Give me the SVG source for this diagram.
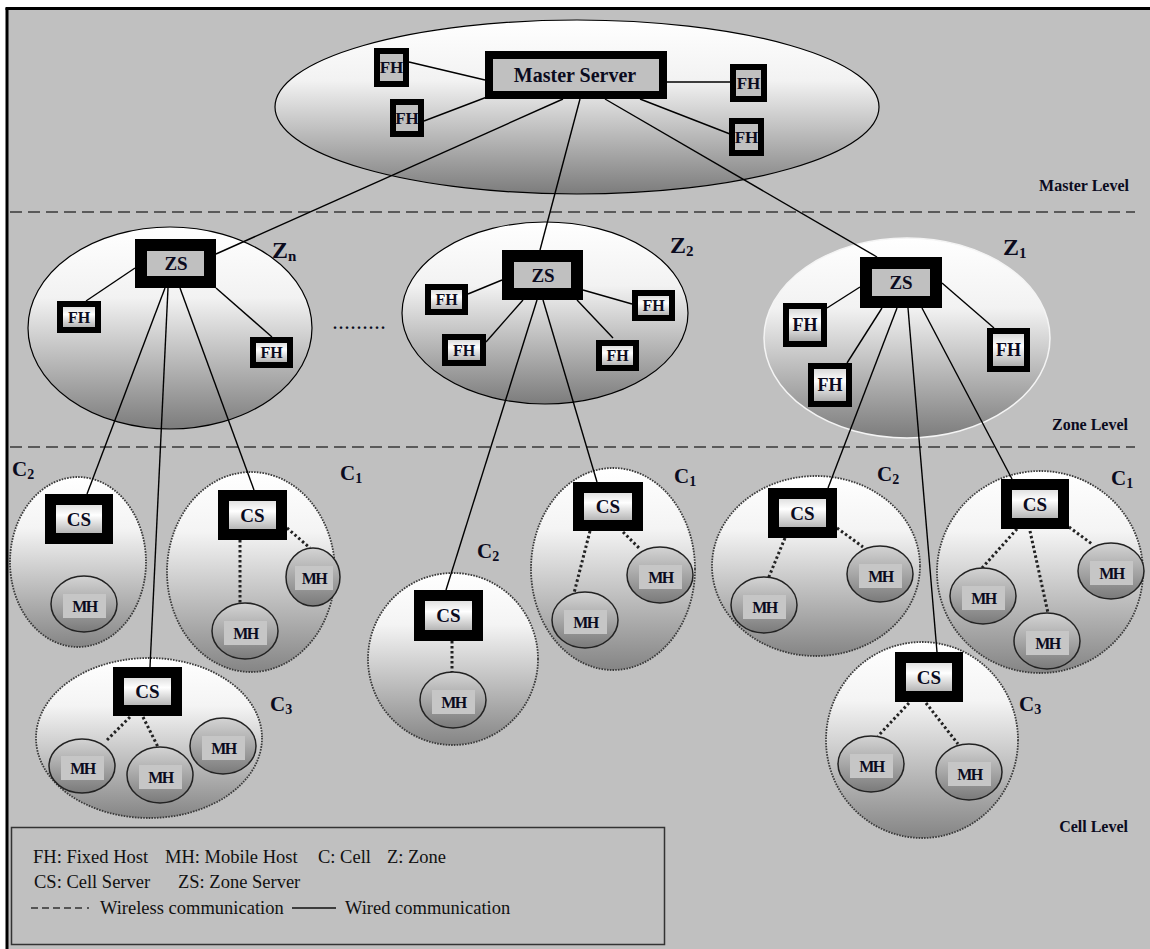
<svg xmlns="http://www.w3.org/2000/svg" width="1150" height="949" viewBox="0 0 1150 949" font-family="'Liberation Serif', 'Times New Roman', Times, serif">
<defs>
<linearGradient id="gBig" x1="0" y1="0" x2="0" y2="1">
<stop offset="0" stop-color="#ffffff"/><stop offset="0.35" stop-color="#f2f2f2"/><stop offset="1" stop-color="#7c7c7c"/>
</linearGradient>
<linearGradient id="gCell" x1="0" y1="0" x2="0" y2="1">
<stop offset="0" stop-color="#ffffff"/><stop offset="0.3" stop-color="#f4f4f4"/><stop offset="1" stop-color="#858585"/>
</linearGradient>
<linearGradient id="gMH" x1="0" y1="0" x2="0" y2="1">
<stop offset="0" stop-color="#d4d4d4"/><stop offset="1" stop-color="#7a7a7a"/>
</linearGradient>
<linearGradient id="gBtn" x1="0" y1="0" x2="0" y2="1">
<stop offset="0" stop-color="#d0d0d0"/><stop offset="0.4" stop-color="#ffffff"/><stop offset="1" stop-color="#a0a0a0"/>
</linearGradient>
</defs>
<style>
.bg{fill:#c0c0c0}
.frame{stroke:#000;stroke-width:3}
.lvl{stroke:#5a5a5a;stroke-width:2;stroke-dasharray:12 6;fill:none}
.zone{fill:url(#gBig);stroke:#000;stroke-width:1.2}
.zonew{fill:url(#gBig);stroke:#f4f4f4;stroke-width:1.5}
.cell{fill:url(#gCell);stroke:#3a3a3a;stroke-width:1.8;stroke-dasharray:1.6 1.2}
.line{stroke:#000;stroke-width:1.4;fill:none}
.wl{stroke:#222;stroke-width:3;stroke-dasharray:2.5 2.5;fill:none}
.ms{fill:#c0c0c0;stroke:#000;stroke-width:8}
.fh{fill:#c0c0c0;stroke:#000;stroke-width:6}
.fhz{fill:url(#gBtn);stroke:#000;stroke-width:6}
.zs{fill:#c0c0c0;stroke:#000;stroke-width:12}
.cs{fill:url(#gBtn);stroke:#000;stroke-width:11}
.mh{fill:url(#gMH);stroke:#222;stroke-width:1.5}
.mhl{fill:#c6c6c6}
text{font-family:'Liberation Serif','Times New Roman',Times,serif}
.t{font-weight:bold;text-anchor:middle;fill:#0b0b1e}
.lab{font-weight:bold;fill:#0b0b1e}
.leg{font-size:18.5px;fill:#111}
</style>
<rect width="1150" height="949" fill="#fff"/>
<rect class="bg" x="7" y="9" width="1143" height="940"/>
<line class="frame" x1="5.5" y1="8.5" x2="1150" y2="8.5"/>
<line class="frame" x1="7" y1="8" x2="7" y2="949"/>
<line class="lvl" x1="10" y1="212" x2="1135" y2="212"/>
<line class="lvl" x1="10" y1="447" x2="1135" y2="447"/>
<text class="lab" x="1129" y="191" font-size="16" text-anchor="end">Master Level</text>
<text class="lab" x="1128" y="430" font-size="16" text-anchor="end">Zone Level</text>
<text class="lab" x="1128" y="832" font-size="16" text-anchor="end">Cell Level</text>

<!-- containers -->
<g id="master-area"><ellipse class="zone" cx="577" cy="107" rx="302" ry="87"/></g>
<g id="zone-zn"><ellipse class="zone" cx="170" cy="328" rx="142" ry="101"/>
<text class="lab" x="272" y="258" font-size="24">Z<tspan font-size="15" dy="3">n</tspan></text></g>
<g id="zone-z2"><ellipse class="zone" cx="545" cy="313" rx="143" ry="91"/>
<text class="lab" x="670" y="253" font-size="24">Z<tspan font-size="15" dy="3">2</tspan></text></g>
<g id="zone-z1"><ellipse class="zonew" cx="907" cy="338" rx="143" ry="100"/>
<text class="lab" x="1003" y="255" font-size="24">Z<tspan font-size="15" dy="3">1</tspan></text></g>
<text class="lab" x="333" y="329" font-size="16" letter-spacing="2">.........</text>

<g id="cell-c2-zn"><ellipse class="cell" cx="78" cy="562" rx="68" ry="85"/>
<text class="lab" x="12" y="476" font-size="21">C<tspan font-size="14" dy="3">2</tspan></text></g>
<g id="cell-c1-zn"><ellipse class="cell" cx="251" cy="572" rx="84" ry="100"/>
<text class="lab" x="340" y="480" font-size="21">C<tspan font-size="14" dy="3">1</tspan></text></g>
<g id="cell-c3-zn"><ellipse class="cell" cx="149" cy="738" rx="113" ry="80"/>
<text class="lab" x="270" y="711" font-size="21">C<tspan font-size="14" dy="3">3</tspan></text></g>
<g id="cell-c2-z2"><ellipse class="cell" cx="453" cy="659" rx="85" ry="86"/>
<text class="lab" x="477" y="558" font-size="21">C<tspan font-size="14" dy="3">2</tspan></text></g>
<g id="cell-c1-z2"><ellipse class="cell" cx="613" cy="569" rx="82" ry="101"/>
<text class="lab" x="674" y="483" font-size="21">C<tspan font-size="14" dy="3">1</tspan></text></g>
<g id="cell-c2-z1"><ellipse class="cell" cx="816" cy="566" rx="104" ry="90"/>
<text class="lab" x="877" y="481" font-size="21">C<tspan font-size="14" dy="3">2</tspan></text></g>
<g id="cell-c1-z1"><ellipse class="cell" cx="1040" cy="572" rx="103" ry="101"/>
<text class="lab" x="1111" y="485" font-size="21">C<tspan font-size="14" dy="3">1</tspan></text></g>
<g id="cell-c3-z1"><ellipse class="cell" cx="922" cy="740" rx="96" ry="98"/>
<text class="lab" x="1019" y="711" font-size="21">C<tspan font-size="14" dy="3">3</tspan></text></g>

<!-- connectors -->
<g id="connectors">
<line class="line" x1="409" y1="62" x2="485" y2="80"/>
<line class="line" x1="424" y1="121" x2="487" y2="97"/>
<line class="line" x1="667" y1="82" x2="730" y2="82"/>
<line class="line" x1="640" y1="99" x2="730" y2="134"/>
<line class="line" x1="563" y1="99" x2="216" y2="254"/>
<line class="line" x1="580" y1="99" x2="540" y2="250"/>
<line class="line" x1="605" y1="99" x2="877" y2="257"/>
<line class="line" x1="135" y1="268" x2="86" y2="301"/>
<line class="line" x1="216" y1="288" x2="272" y2="337"/>
<line class="line" x1="165" y1="288" x2="87" y2="494"/>
<line class="line" x1="168" y1="288" x2="150" y2="667"/>
<line class="line" x1="180" y1="288" x2="254" y2="490"/>
<line class="line" x1="502" y1="280" x2="468" y2="294"/>
<line class="line" x1="583" y1="290" x2="632" y2="304"/>
<line class="line" x1="523" y1="300" x2="486" y2="342"/>
<line class="line" x1="577" y1="300" x2="613" y2="338"/>
<line class="line" x1="537" y1="300" x2="446" y2="590"/>
<line class="line" x1="543" y1="300" x2="597" y2="482"/>
<line class="line" x1="860" y1="287" x2="827" y2="308"/>
<line class="line" x1="882" y1="308" x2="847" y2="363"/>
<line class="line" x1="942" y1="283" x2="994" y2="328"/>
<line class="line" x1="897" y1="308" x2="828" y2="488"/>
<line class="line" x1="908" y1="308" x2="937" y2="652"/>
<line class="line" x1="922" y1="308" x2="1012" y2="479"/>
<!-- wireless -->
<line class="wl" x1="240" y1="540" x2="240" y2="603"/>
<line class="wl" x1="287" y1="528" x2="310" y2="548"/>
<line class="wl" x1="130" y1="717" x2="107" y2="740"/>
<line class="wl" x1="143" y1="717" x2="158" y2="747"/>
<line class="wl" x1="452" y1="641" x2="452" y2="672"/>
<line class="wl" x1="590" y1="531" x2="573" y2="597"/>
<line class="wl" x1="623" y1="532" x2="639" y2="548"/>
<line class="wl" x1="785" y1="538" x2="768" y2="579"/>
<line class="wl" x1="837" y1="528" x2="863" y2="547"/>
<line class="wl" x1="1017" y1="529" x2="982" y2="568"/>
<line class="wl" x1="1030" y1="531" x2="1048" y2="613"/>
<line class="wl" x1="1069" y1="527" x2="1092" y2="544"/>
<line class="wl" x1="909" y1="703" x2="878" y2="736"/>
<line class="wl" x1="926" y1="703" x2="958" y2="744"/>
</g>

<!-- master level nodes -->
<g id="master-server"><rect class="ms" x="489" y="55" width="174" height="40"/><text class="t" x="575" y="82" font-size="20">Master Server</text></g>
<g id="fh-m1"><rect class="fh" x="377" y="51" width="29" height="33"/><text class="t" x="391.5" y="73" font-size="17">FH</text></g>
<g id="fh-m2"><rect class="fh" x="393" y="102" width="28" height="32"/><text class="t" x="407" y="124" font-size="17">FH</text></g>
<g id="fh-m3"><rect class="fh" x="733" y="67" width="31" height="32"/><text class="t" x="748.5" y="89" font-size="17">FH</text></g>
<g id="fh-m4"><rect class="fh" x="732" y="121" width="29" height="32"/><text class="t" x="746.5" y="143" font-size="17">FH</text></g>

<!-- zone servers -->
<g id="zs-zn"><rect class="zs" x="141" y="245" width="69" height="37"/><text class="t" x="176" y="270" font-size="19">ZS</text></g>
<g id="zs-z2"><rect class="zs" x="508" y="256" width="69" height="38"/><text class="t" x="543" y="282" font-size="19">ZS</text></g>
<g id="zs-z1"><rect class="zs" x="866" y="263" width="70" height="39"/><text class="t" x="901" y="289" font-size="19">ZS</text></g>
<g id="fh-zn-1"><rect class="fhz" x="60" y="304" width="38" height="26"/><text class="t" x="79" y="323" font-size="16">FH</text></g>
<g id="fh-zn-2"><rect class="fhz" x="253" y="340" width="37" height="25"/><text class="t" x="271.5" y="358" font-size="16">FH</text></g>
<g id="fh-z2-1"><rect class="fhz" x="428" y="287" width="37" height="25"/><text class="t" x="446.5" y="305" font-size="16">FH</text></g>
<g id="fh-z2-2"><rect class="fhz" x="635" y="293" width="37" height="25"/><text class="t" x="653.5" y="311" font-size="16">FH</text></g>
<g id="fh-z2-3"><rect class="fhz" x="445" y="337" width="38" height="26"/><text class="t" x="464" y="356" font-size="16">FH</text></g>
<g id="fh-z2-4"><rect class="fhz" x="599" y="343" width="37" height="25"/><text class="t" x="617.5" y="361" font-size="16">FH</text></g>
<g id="fh-z1-1"><rect class="fhz" x="786" y="306" width="38" height="38"/><text class="t" x="805" y="331" font-size="18">FH</text></g>
<g id="fh-z1-2"><rect class="fhz" x="811" y="366" width="38" height="38"/><text class="t" x="830" y="391" font-size="18">FH</text></g>
<g id="fh-z1-3"><rect class="fhz" x="990" y="331" width="37" height="38"/><text class="t" x="1008.5" y="356" font-size="18">FH</text></g>

<!-- cell servers -->
<g id="cs-c2-zn"><rect class="cs" x="50.5" y="499.5" width="57" height="39"/><text class="t" x="79" y="526" font-size="19">CS</text></g>
<g id="cs-c1-zn"><rect class="cs" x="223.5" y="495.5" width="58" height="39"/><text class="t" x="252.5" y="522" font-size="19">CS</text></g>
<g id="cs-c3-zn"><rect class="cs" x="118.5" y="672.5" width="58" height="38"/><text class="t" x="147.5" y="698" font-size="19">CS</text></g>
<g id="cs-c2-z2"><rect class="cs" x="419.5" y="595.5" width="58" height="40"/><text class="t" x="448.5" y="622" font-size="19">CS</text></g>
<g id="cs-c1-z2"><rect class="cs" x="578.5" y="487.5" width="59" height="38"/><text class="t" x="608" y="513" font-size="19">CS</text></g>
<g id="cs-c2-z1"><rect class="cs" x="773.5" y="493.5" width="58" height="39"/><text class="t" x="802.5" y="520" font-size="19">CS</text></g>
<g id="cs-c1-z1"><rect class="cs" x="1006.5" y="484.5" width="57" height="39"/><text class="t" x="1035" y="511" font-size="19">CS</text></g>
<g id="cs-c3-z1"><rect class="cs" x="900.5" y="657.5" width="57" height="39"/><text class="t" x="929" y="684" font-size="19">CS</text></g>

<!-- mobile hosts -->
<g id="mh-1"><ellipse class="mh" cx="84" cy="604" rx="33" ry="28"/><rect class="mhl" x="63" y="594" width="43" height="24"/><text class="t" x="84.5" y="612" font-size="16" letter-spacing="-1.5">MH</text></g>
<g id="mh-2"><ellipse class="mh" cx="313" cy="577" rx="27" ry="29"/><rect class="mhl" x="295" y="566" width="38" height="24"/><text class="t" x="314" y="584" font-size="16" letter-spacing="-1.5">MH</text></g>
<g id="mh-3"><ellipse class="mh" cx="245" cy="631" rx="33" ry="28"/><rect class="mhl" x="224" y="621" width="43" height="24"/><text class="t" x="245.5" y="639" font-size="16" letter-spacing="-1.5">MH</text></g>
<g id="mh-4"><ellipse class="mh" cx="82" cy="766" rx="33" ry="27"/><rect class="mhl" x="61" y="756" width="43" height="24"/><text class="t" x="82.5" y="774" font-size="16" letter-spacing="-1.5">MH</text></g>
<g id="mh-5"><ellipse class="mh" cx="160" cy="775" rx="33" ry="28"/><rect class="mhl" x="139" y="765" width="43" height="24"/><text class="t" x="160.5" y="783" font-size="16" letter-spacing="-1.5">MH</text></g>
<g id="mh-6"><ellipse class="mh" cx="223" cy="746" rx="33" ry="28"/><rect class="mhl" x="202" y="736" width="43" height="24"/><text class="t" x="223.5" y="754" font-size="16" letter-spacing="-1.5">MH</text></g>
<g id="mh-7"><ellipse class="mh" cx="453" cy="700" rx="33" ry="28"/><rect class="mhl" x="432" y="690" width="43" height="24"/><text class="t" x="453.5" y="708" font-size="16" letter-spacing="-1.5">MH</text></g>
<g id="mh-8"><ellipse class="mh" cx="660" cy="575" rx="33" ry="28"/><rect class="mhl" x="639" y="565" width="43" height="24"/><text class="t" x="660.5" y="583" font-size="16" letter-spacing="-1.5">MH</text></g>
<g id="mh-9"><ellipse class="mh" cx="585" cy="620" rx="33" ry="28"/><rect class="mhl" x="564" y="610" width="43" height="24"/><text class="t" x="585.5" y="628" font-size="16" letter-spacing="-1.5">MH</text></g>
<g id="mh-10"><ellipse class="mh" cx="764" cy="605" rx="33" ry="28"/><rect class="mhl" x="743" y="595" width="43" height="24"/><text class="t" x="764.5" y="613" font-size="16" letter-spacing="-1.5">MH</text></g>
<g id="mh-11"><ellipse class="mh" cx="880" cy="574" rx="33" ry="28"/><rect class="mhl" x="859" y="564" width="43" height="24"/><text class="t" x="880.5" y="582" font-size="16" letter-spacing="-1.5">MH</text></g>
<g id="mh-12"><ellipse class="mh" cx="983" cy="596" rx="33" ry="28"/><rect class="mhl" x="962" y="586" width="43" height="24"/><text class="t" x="983.5" y="604" font-size="16" letter-spacing="-1.5">MH</text></g>
<g id="mh-13"><ellipse class="mh" cx="1047" cy="641" rx="33" ry="28"/><rect class="mhl" x="1026" y="631" width="43" height="24"/><text class="t" x="1047.5" y="649" font-size="16" letter-spacing="-1.5">MH</text></g>
<g id="mh-14"><ellipse class="mh" cx="1111" cy="571" rx="33" ry="28"/><rect class="mhl" x="1090" y="561" width="43" height="24"/><text class="t" x="1111.5" y="579" font-size="16" letter-spacing="-1.5">MH</text></g>
<g id="mh-15"><ellipse class="mh" cx="871" cy="764" rx="33" ry="28"/><rect class="mhl" x="850" y="754" width="43" height="24"/><text class="t" x="871.5" y="772" font-size="16" letter-spacing="-1.5">MH</text></g>
<g id="mh-16"><ellipse class="mh" cx="969" cy="772" rx="33" ry="28"/><rect class="mhl" x="948" y="762" width="43" height="24"/><text class="t" x="969.5" y="780" font-size="16" letter-spacing="-1.5">MH</text></g>

<!-- legend -->
<g id="legend">
<rect x="11.5" y="827.5" width="653" height="117" fill="none" stroke="#333" stroke-width="1.5"/>
<text class="leg" x="33" y="863">FH: Fixed Host</text>
<text class="leg" x="165" y="863">MH: Mobile Host</text>
<text class="leg" x="318" y="863">C: Cell</text>
<text class="leg" x="387" y="863">Z: Zone</text>
<text class="leg" x="34" y="888">CS: Cell Server</text>
<text class="leg" x="178" y="888">ZS: Zone Server</text>
<line x1="31" y1="908" x2="84" y2="908" stroke="#555" stroke-width="2" stroke-dasharray="7 4"/>
<line x1="87" y1="908" x2="89" y2="908" stroke="#555" stroke-width="2"/>
<text class="leg" x="100" y="914">Wireless communication</text>
<line x1="292" y1="908" x2="336" y2="908" stroke="#111" stroke-width="1.5"/>
<text class="leg" x="345" y="914">Wired communication</text>
</g>
</svg>
